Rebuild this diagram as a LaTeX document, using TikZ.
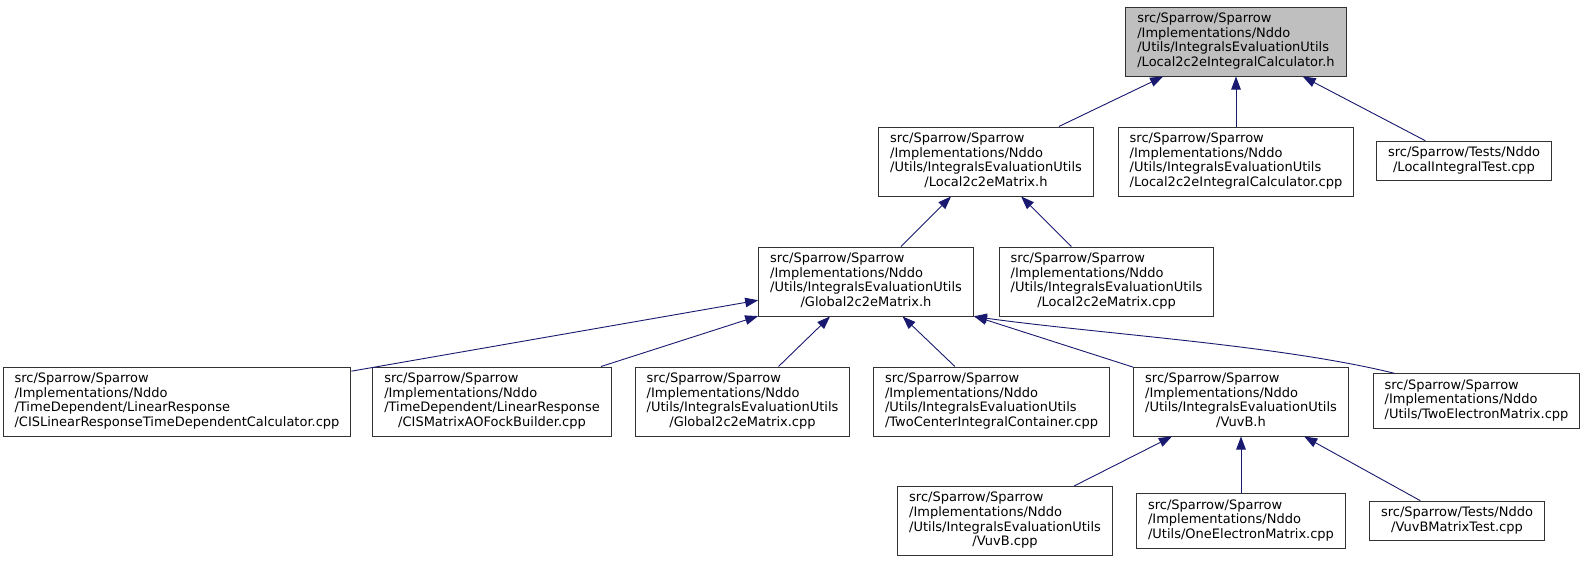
\documentclass[tikz,border=0pt]{standalone}
\usepackage{fontspec}
\setmainfont{DejaVu Sans}
\usetikzlibrary{arrows.meta}
\definecolor{edgeblue}{HTML}{191970}
\definecolor{headgray}{HTML}{BFBFBF}
\newcommand{\fpath}[1]{\begin{tabular}{@{}l@{}}#1\end{tabular}}
\newcommand{\lastln}[1]{\multicolumn{1}{@{}c@{}}{#1}}
\tikzset{
  file/.style={draw=black!80, line width=1pt, inner xsep=11.5pt, inner ysep=5.1pt,
    font=\fontsize{13}{14.7}\selectfont},
  dep/.style={draw=edgeblue, line width=0.9pt, {Triangle[length=13pt,width=9.5pt]}-}
}
\begin{document}
\begin{tikzpicture}[x=1pt, y=-1pt]
      \fill[white] (0,0) rectangle (1585,563);
      \useasboundingbox (0,0) rectangle (1585,563);
      \path
        (1236,41.5) node[file, fill=headgray] (hdr){\fpath{src/Sparrow/Sparrow\\/Implementations/Nddo\\/Utils/IntegralsEvaluationUtils\\\lastln{/Local2c2eIntegralCalculator.h}}}
        (986,161.5) node[file] (lmh){\fpath{src/Sparrow/Sparrow\\/Implementations/Nddo\\/Utils/IntegralsEvaluationUtils\\\lastln{/Local2c2eMatrix.h}}}
        (1236,161.5) node[file] (licpp){\fpath{src/Sparrow/Sparrow\\/Implementations/Nddo\\/Utils/IntegralsEvaluationUtils\\\lastln{/Local2c2eIntegralCalculator.cpp}}}
        (1464,161) node[file] (lit){\fpath{src/Sparrow/Tests/Nddo\\\lastln{/LocalIntegralTest.cpp}}}
        (866,281.5) node[file] (gmh){\fpath{src/Sparrow/Sparrow\\/Implementations/Nddo\\/Utils/IntegralsEvaluationUtils\\\lastln{/Global2c2eMatrix.h}}}
        (1106.5,281.5) node[file] (lmcpp){\fpath{src/Sparrow/Sparrow\\/Implementations/Nddo\\/Utils/IntegralsEvaluationUtils\\\lastln{/Local2c2eMatrix.cpp}}}
        (177,401.5) node[file] (cislr){\fpath{src/Sparrow/Sparrow\\/Implementations/Nddo\\/TimeDependent/LinearResponse\\\lastln{/CISLinearResponseTimeDependentCalculator.cpp}}}
        (492,401.5) node[file] (cisfock){\fpath{src/Sparrow/Sparrow\\/Implementations/Nddo\\/TimeDependent/LinearResponse\\\lastln{/CISMatrixAOFockBuilder.cpp}}}
        (742.5,401.5) node[file] (gmcpp){\fpath{src/Sparrow/Sparrow\\/Implementations/Nddo\\/Utils/IntegralsEvaluationUtils\\\lastln{/Global2c2eMatrix.cpp}}}
        (991.5,401.5) node[file] (tcic){\fpath{src/Sparrow/Sparrow\\/Implementations/Nddo\\/Utils/IntegralsEvaluationUtils\\\lastln{/TwoCenterIntegralContainer.cpp}}}
        (1241,401.5) node[file] (vuvbh){\fpath{src/Sparrow/Sparrow\\/Implementations/Nddo\\/Utils/IntegralsEvaluationUtils\\\lastln{/VuvB.h}}}
        (1476.5,401) node[file] (tem){\fpath{src/Sparrow/Sparrow\\/Implementations/Nddo\\\lastln{/Utils/TwoElectronMatrix.cpp}}}
        (1005,521) node[file] (vuvbcpp){\fpath{src/Sparrow/Sparrow\\/Implementations/Nddo\\/Utils/IntegralsEvaluationUtils\\\lastln{/VuvB.cpp}}}
        (1241,521) node[file] (oem){\fpath{src/Sparrow/Sparrow\\/Implementations/Nddo\\\lastln{/Utils/OneElectronMatrix.cpp}}}
        (1457,521) node[file] (vbt){\fpath{src/Sparrow/Tests/Nddo\\\lastln{/VuvBMatrixTest.cpp}}};
      \begin{scope}[dep]
        \draw (hdr) to (lmh);
        \draw (hdr) to (licpp);
        \draw (hdr) to (lit);
        \draw (lmh) to (gmh);
        \draw (lmh) to (lmcpp);
        \draw (gmh) to (cislr);
        \draw (gmh) to (cisfock);
        \draw (gmh) to (gmcpp);
        \draw (gmh) to (tcic);
        \draw (gmh) to (vuvbh);
        \draw (gmh.south east) .. controls (1100,334) and (1280,345) .. ([xshift=22pt]tem.north west);
        \draw (vuvbh) to (vuvbcpp);
        \draw (vuvbh) to (oem);
        \draw (vuvbh) to (vbt);
      \end{scope}
    \end{tikzpicture}
\end{document}
